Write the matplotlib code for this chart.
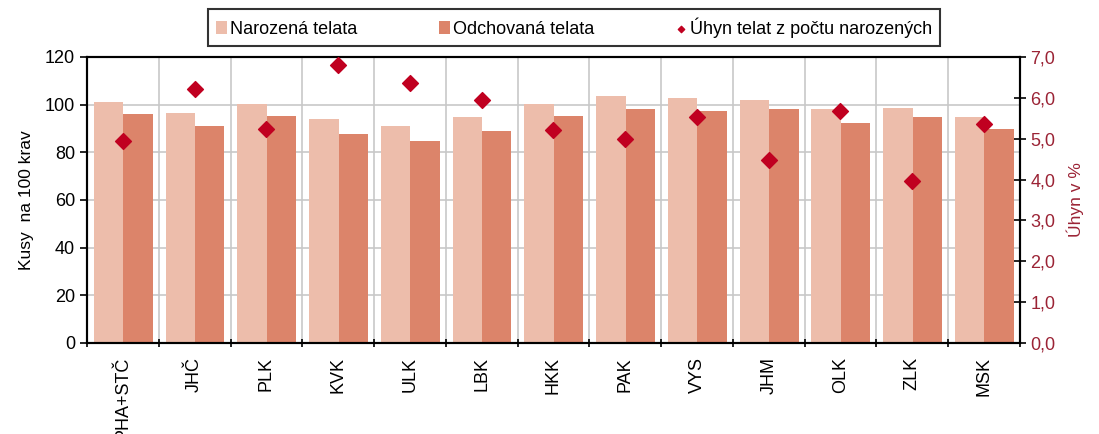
import matplotlib.pyplot as plt
import numpy as np
from matplotlib.ticker import FuncFormatter, MultipleLocator, FixedLocator

kraje = ['PHA+STČ', 'JHČ', 'PLK', 'KVK', 'ULK', 'LBK', 'HKK', 'PAK', 'VYS', 'JHM', 'OLK', 'ZLK', 'MSK']
narozena = [101.1, 96.5, 100.3, 94.0, 91.0, 94.8, 100.3, 103.6, 102.8, 102.0, 98.2, 98.6, 94.8]
odchovana = [96.1, 91.0, 95.3, 87.7, 84.8, 89.0, 95.3, 98.2, 97.4, 98.2, 92.3, 94.8, 89.8]
uhyn = [4.94, 6.22, 5.24, 6.80, 6.36, 5.95, 5.21, 4.99, 5.53, 4.48, 5.68, 3.96, 5.36]

plt.rcParams['font.family'] = ['Liberation Sans', 'DejaVu Sans']

fig = plt.figure(figsize=(10.99, 4.34), dpi=100)
ax = fig.add_axes([0.0792, 0.2097, 0.8488, 0.659])
x = np.arange(len(kraje))
w = 0.41

ax.bar(x - 0.2, narozena, w, color='#EDBDAB', zorder=2, label='Narozená telata')
ax.bar(x + 0.21, odchovana, w, color='#DC846A', zorder=2, label='Odchovaná telata')

ax.set_xlim(-0.5, len(kraje) - 0.5)
ax.set_ylim(0, 120)
ax.yaxis.set_major_locator(MultipleLocator(20))
ax.set_xticks(x)
ax.set_xticklabels(kraje, rotation=90, fontsize=13)
ax.tick_params(axis='x', length=0, pad=10)
ax.xaxis.set_minor_locator(FixedLocator(np.arange(-0.5, len(kraje), 1)))
ax.tick_params(axis='x', which='minor', length=6, direction='inout', width=1.2)
ax.tick_params(axis='y', labelsize=13, length=5, width=1.2)
ax.grid(axis='y', color='#C8C8C8', linewidth=1.2, zorder=0)
ax.grid(axis='x', which='minor', color='#C8C8C8', linewidth=1.2, zorder=0)
ax.set_ylabel('Kusy  na 100 krav', fontsize=12.5, labelpad=8)
for s in ax.spines.values():
    s.set_linewidth(1.5)

ax2 = ax.twinx()
ax2.scatter(x, uhyn, marker='D', s=65, color='#C00020', zorder=5, label='Úhyn telat z počtu narozených')
ax2.set_ylim(0, 7)
ax2.yaxis.set_major_locator(MultipleLocator(1))
ax2.yaxis.set_major_formatter(FuncFormatter(lambda v, p: f'{v:.1f}'.replace('.', ',')))
ax2.tick_params(axis='y', labelsize=13, labelcolor='#9B2335', length=8, width=1.2, direction='inout')
ax2.set_ylabel('Úhyn v %', fontsize=12.5, color='#9B2335', labelpad=8)
for s in ax2.spines.values():
    s.set_linewidth(1.5)

h1, l1 = ax.get_legend_handles_labels()
h2, l2 = ax2.get_legend_handles_labels()
leg = fig.legend(h1 + h2, l1 + l2, loc='center', bbox_to_anchor=(0.5223, 0.937), ncol=3,
                 fontsize=13, frameon=True, fancybox=False, edgecolor='black',
                 handlelength=0.6, handletextpad=0.2, columnspacing=4.5,
                 borderpad=0.45, borderaxespad=0, markerscale=0.4)
leg.get_frame().set_linewidth(1.5)

plt.savefig('out.png', dpi=100)
